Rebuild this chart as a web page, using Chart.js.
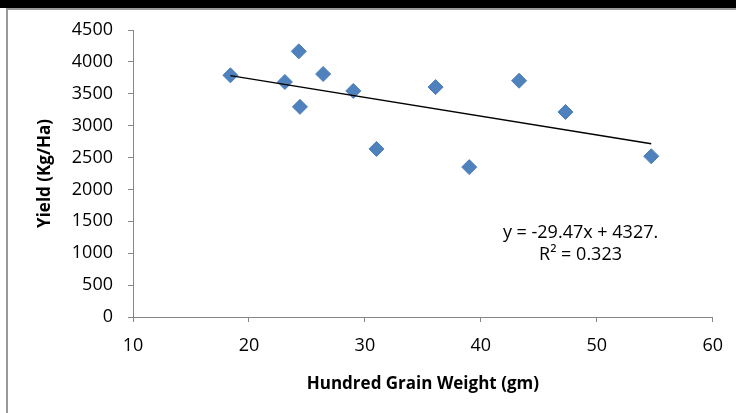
<!DOCTYPE html>
<html>
<head>
<meta charset="utf-8">
<script src="https://cdn.jsdelivr.net/npm/chart.js@4.4.1/dist/chart.umd.min.js"></script>
<style>
  html, body { margin: 0; padding: 0; background: #fff; }
  #wrap { position: relative; width: 736px; height: 413px; overflow: hidden; }
  #bar { position: absolute; left: 0; top: 0; width: 736px; height: 8px; background: #000; }
  #frameTop { position: absolute; left: 6px; top: 8px; width: 730px; height: 2px; background: #9a9a9a; }
  #frameLeft { position: absolute; left: 6px; top: 8px; width: 2px; height: 405px; background: #9a9a9a; }
  canvas { position: absolute; left: 0; top: 0; }
</style>
</head>
<body>
<div id="wrap">
  <canvas id="c" width="736" height="413"></canvas>
  <div id="bar"></div>
  <div id="frameTop"></div>
  <div id="frameLeft"></div>
</div>
<script>
// Data
const grainWeight = [18.4, 24.3, 23.1, 24.4, 26.4, 29.0, 31.0, 36.1, 39.0, 43.3, 47.3, 54.7];
const yieldKgHa   = [3790, 4165, 3685, 3295, 3810, 3545, 2635, 3605, 2350, 3705, 3215, 2520];
const xTicks = [10, 20, 30, 40, 50, 60];
const yTicks = [0, 500, 1000, 1500, 2000, 2500, 3000, 3500, 4000, 4500];
// Trendline as printed on the chart
const trendSlope = -29.47;
const trendIntercept = 4327;
const equationLines = ["y = -29.47x + 4327.", "R\u00B2 = 0.323"];

const points = grainWeight.map((x, i) => ({ x: x, y: yieldKgHa[i] }));
const xMin = Math.min(...grainWeight), xMax = Math.max(...grainWeight);
const trend = [
  { x: xMin, y: trendSlope * xMin + trendIntercept },
  { x: xMax, y: trendSlope * xMax + trendIntercept }
];

const FONT = "'Open Sans', 'Liberation Sans', sans-serif";
const AXIS = '#868686';

const equationPlugin = {
  id: 'equation',
  afterDatasetsDraw(chart) {
    const { ctx, scales: { x, y } } = chart;
    ctx.save();
    ctx.fillStyle = '#000';
    ctx.font = "18px " + FONT;
    ctx.textAlign = 'center';
    ctx.textBaseline = 'middle';
    const cx = x.getPixelForValue(48.6);
    ctx.fillText(equationLines[0], cx, y.getPixelForValue(1320));
    ctx.fillText(equationLines[1], cx, y.getPixelForValue(975));
    ctx.restore();
  }
};

new Chart(document.getElementById('c'), {
  type: 'scatter',
  data: {
    datasets: [
      {
        label: 'Yield',
        data: points,
        pointStyle: 'rectRot',
        pointRadius: 7.5,
        pointHoverRadius: 7.5,
        backgroundColor: '#4F81BD',
        borderColor: '#4A7EBB',
        borderWidth: 1,
        order: 2
      },
      {
        label: 'Trend',
        data: trend,
        type: 'line',
        showLine: true,
        borderColor: '#000',
        borderWidth: 1.5,
        pointRadius: 0,
        fill: false,
        order: 1
      }
    ]
  },
  options: {
    responsive: false,
    animation: false,
    devicePixelRatio: 1,
    layout: { padding: { left: 0, top: 30, right: 22, bottom: 0 } },
    plugins: { legend: { display: false }, tooltip: { enabled: false } },
    scales: {
      x: {
        type: 'linear',
        min: 10, max: 60,
        afterBuildTicks(s) { s.ticks = xTicks.map(v => ({ value: v })); },
        afterFit(s) { s.height = 96; },
        grid: { drawOnChartArea: false, drawTicks: true, tickLength: 5, color: AXIS },
        border: { display: true, color: AXIS, width: 1 },
        ticks: { color: '#000', font: { family: FONT, size: 18 }, padding: 13,
                 callback: v => String(v) },
        title: { display: true, text: 'Hundred Grain Weight (gm)', color: '#000',
                 font: { family: FONT, size: 17, weight: 'bold' }, padding: { bottom: 19, top: 0 } }
      },
      y: {
        type: 'linear',
        min: 0, max: 4500,
        afterBuildTicks(s) { s.ticks = yTicks.map(v => ({ value: v })); },
        afterFit(s) { s.width = 133; },
        grid: { drawOnChartArea: false, drawTicks: true, tickLength: 5, color: AXIS },
        border: { display: true, color: AXIS, width: 1 },
        ticks: { color: '#000', font: { family: FONT, size: 18 }, padding: 15,
                 callback: v => String(v) },
        title: { display: true, text: 'Yield (Kg/Ha)', color: '#000',
                 font: { family: FONT, size: 17, weight: 'bold' }, padding: { top: 35, bottom: 0 } }
      }
    }
  },
  plugins: [equationPlugin]
});
</script>
</body>
</html>
